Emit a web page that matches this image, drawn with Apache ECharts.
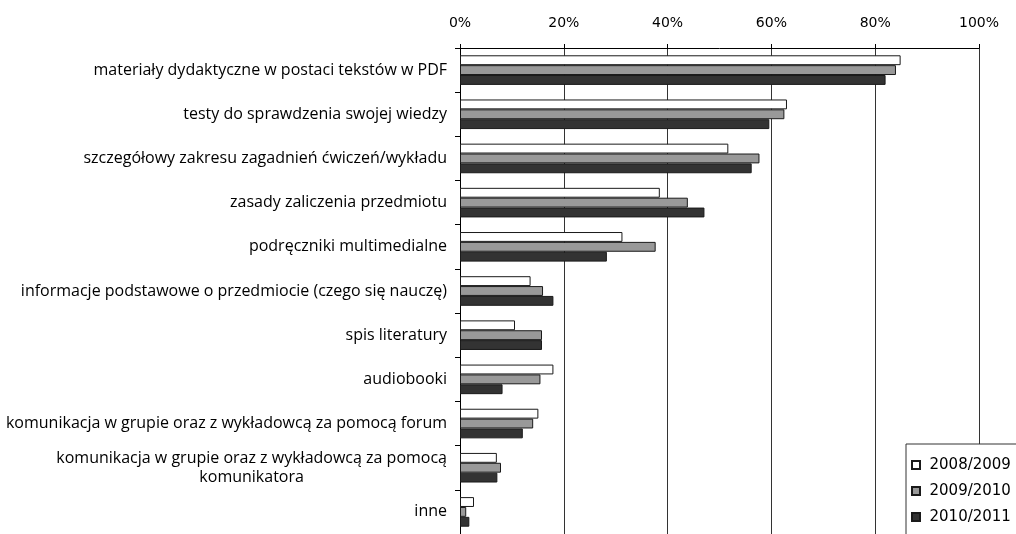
<!DOCTYPE html>
<html>
<head>
<meta charset="utf-8">
<script src="https://cdn.jsdelivr.net/npm/echarts@6/dist/echarts.min.js"></script>
<style>
  html, body { margin: 0; padding: 0; background: #fff; }
  #chart { width: 1016px; height: 534px; }
</style>
</head>
<body>
<div id="chart"></div>
<script>
// Survey answers: which e-learning resources students used (share of respondents, %)
const categories = [
  'materiały dydaktyczne w postaci tekstów w PDF',
  'testy do sprawdzenia swojej wiedzy',
  'szczegółowy zakresu zagadnień ćwiczeń/wykładu',
  'zasady zaliczenia przedmiotu',
  'podręczniki multimedialne',
  'informacje podstawowe o przedmiocie (czego się nauczę)',
  'spis literatury',
  'audiobooki',
  'komunikacja w grupie oraz z wykładowcą za pomocą forum',
  'komunikacja w grupie oraz z wykładowcą za pomocą\nkomunikatora',
  'inne'
];

const seriesNames = ['2008/2009', '2009/2010', '2010/2011'];

const values2008 = [84.9, 63.0, 51.7, 38.5, 31.3, 13.6, 10.6, 18.0, 15.1, 7.1, 2.7];
const values2009 = [84.0, 62.5, 57.7, 43.9, 37.7, 16.0, 15.8, 15.5, 14.1, 7.9, 1.2];
const values2010 = [82.0, 59.6, 56.2, 47.1, 28.3, 18.0, 15.8, 8.2, 12.1, 7.2, 1.8];

const seriesColors = ['#ffffff', '#999999', '#333333'];

const labelFont = 'Open Sans';
const tickFont = 'DejaVu Sans';

const chart = echarts.init(document.getElementById('chart'), null, { renderer: 'canvas' });

function barSeries(name, data, color) {
  return {
    name: name,
    type: 'bar',
    data: data,
    barGap: '0%',
    barCategoryGap: '33%',
    itemStyle: { color: color, borderColor: '#1a1a1a', borderWidth: 1 },
    emphasis: { disabled: true },
    animation: false
  };
}

chart.setOption({
  animation: false,
  backgroundColor: '#ffffff',
  grid: { left: 460, right: 37, top: 48, bottom: 0, containLabel: false },
  xAxis: {
    type: 'value',
    position: 'top',
    min: 0,
    max: 100,
    interval: 20,
    axisLine: { show: true, lineStyle: { color: '#000', width: 1 } },
    axisTick: { show: true, length: 4, lineStyle: { color: '#000' } },
    splitLine: { show: true, lineStyle: { color: '#333', width: 1 } },
    axisLabel: {
      formatter: '{value}%',
      fontFamily: tickFont,
      fontSize: 14,
      color: '#000',
      margin: 18
    }
  },
  yAxis: {
    type: 'category',
    inverse: true,
    data: categories,
    axisLine: { show: true, lineStyle: { color: '#000', width: 1 } },
    axisTick: { show: true, length: 5, lineStyle: { color: '#000' } },
    splitLine: { show: false },
    axisLabel: {
      fontFamily: labelFont,
      fontSize: 16,
      color: '#000',
      margin: 13,
      lineHeight: 19,
      formatter: function (value) {
        const lines = value.split('\n');
        if (lines.length === 1) return value;
        return lines[0] + '\n{c|' + lines[1] + '}';
      },
      rich: {
        c: { fontFamily: labelFont, fontSize: 16, color: '#000', lineHeight: 19, align: 'center' }
      }
    }
  },
  legend: {
    orient: 'vertical',
    left: 906,
    top: 444,
    height: 200,
    backgroundColor: '#ffffff',
    borderColor: '#333',
    borderWidth: 1,
    borderRadius: 0,
    padding: [13, 40, 20, 5],
    itemWidth: 17,
    itemHeight: 8,
    itemGap: 10,
    icon: 'path://M0,0H10V10H0Z',
    selectedMode: false,
    textStyle: { fontFamily: tickFont, fontSize: 15, color: '#000', lineHeight: 16 },
    data: seriesNames
  },
  series: [
    barSeries(seriesNames[0], values2008, seriesColors[0]),
    barSeries(seriesNames[1], values2009, seriesColors[1]),
    barSeries(seriesNames[2], values2010, seriesColors[2])
  ]
});
</script>
</body>
</html>
